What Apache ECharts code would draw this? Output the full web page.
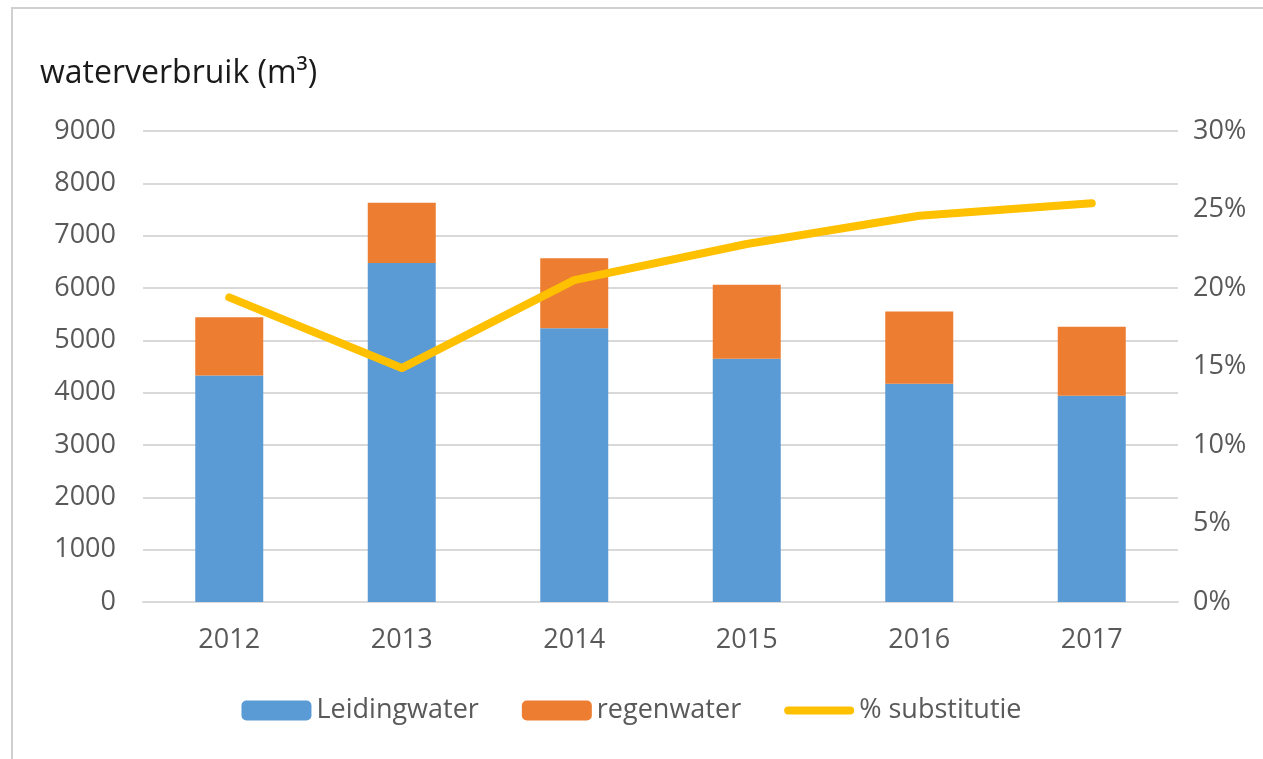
<!DOCTYPE html>
<html>
<head>
<meta charset="utf-8">
<script src="https://cdn.jsdelivr.net/npm/echarts@6/dist/echarts.min.js"></script>
<style>
  html, body { margin: 0; padding: 0; background: #fff; }
  #chart { width: 1263px; height: 759px; }
</style>
</head>
<body>
<div id="chart"></div>
<script>
const years = ['2012', '2013', '2014', '2015', '2016', '2017']
const leidingwater = [4330, 6480, 5230, 4650, 4170, 3940]
const regenwater = [1110, 1150, 1340, 1410, 1380, 1320]
const substitutie = [0.194, 0.149, 0.205, 0.228, 0.246, 0.254]

const font = 'Open Sans'
const labelColor = '#595959'
const gridColor = '#d9d9d9'

const chart = echarts.init(document.getElementById('chart'))

chart.setOption({
  animation: false,
  textStyle: { fontFamily: font },
  graphic: [{
    type: 'rect',
    shape: { x: 12, y: 8, width: 1400, height: 900 },
    style: { fill: null, stroke: '#d0d0d0', lineWidth: 2 }
  }, {
    type: 'text',
    left: 40,
    top: 58,
    style: { text: 'waterverbruik (m³)', fontSize: 32, fontFamily: font, fill: '#1a1a1a' }
  }],
  legend: {
    bottom: 30,
    left: 'center',
    itemWidth: 70,
    itemHeight: 20,
    itemGap: 43,
    textStyle: { fontSize: 27, color: labelColor, fontFamily: font },
    data: [
      'Leidingwater',
      'regenwater',
      {
        name: '% substitutie',
        icon: 'path://M4,0 H66 A4,4 0 0 1 66,8 H4 A4,4 0 0 1 4,0 Z',
        itemStyle: { color: '#ffc000' }
      }
    ]
  },
  grid: { left: 143, right: 85, top: 131, bottom: 157 },
  xAxis: {
    type: 'category',
    data: years,
    axisTick: { show: false },
    axisLine: { lineStyle: { color: gridColor, width: 2 } },
    axisLabel: { fontSize: 27, color: labelColor, margin: 25 }
  },
  yAxis: [{
    type: 'value',
    min: 0,
    max: 9000,
    interval: 1000,
    axisLabel: { fontSize: 27, color: labelColor, margin: 27, formatter: v => String(v) },
    splitLine: { lineStyle: { color: gridColor, width: 2 } }
  }, {
    type: 'value',
    min: 0,
    max: 0.3,
    interval: 0.05,
    splitLine: { show: false },
    axisLabel: {
      fontSize: 27, color: labelColor, margin: 15,
      formatter: v => Math.round(v * 100) + '%'
    }
  }],
  series: [{
    name: 'Leidingwater',
    type: 'bar',
    stack: 'water',
    barWidth: 68,
    itemStyle: { color: '#5b9bd5' },
    data: leidingwater
  }, {
    name: 'regenwater',
    type: 'bar',
    stack: 'water',
    barWidth: 68,
    itemStyle: { color: '#ed7d31' },
    data: regenwater
  }, {
    name: '% substitutie',
    type: 'line',
    yAxisIndex: 1,
    symbol: 'none',
    lineStyle: { color: '#ffc000', width: 8, cap: 'round', join: 'round' },
    itemStyle: { color: '#ffc000' },
    data: substitutie
  }]
})
</script>
</body>
</html>
